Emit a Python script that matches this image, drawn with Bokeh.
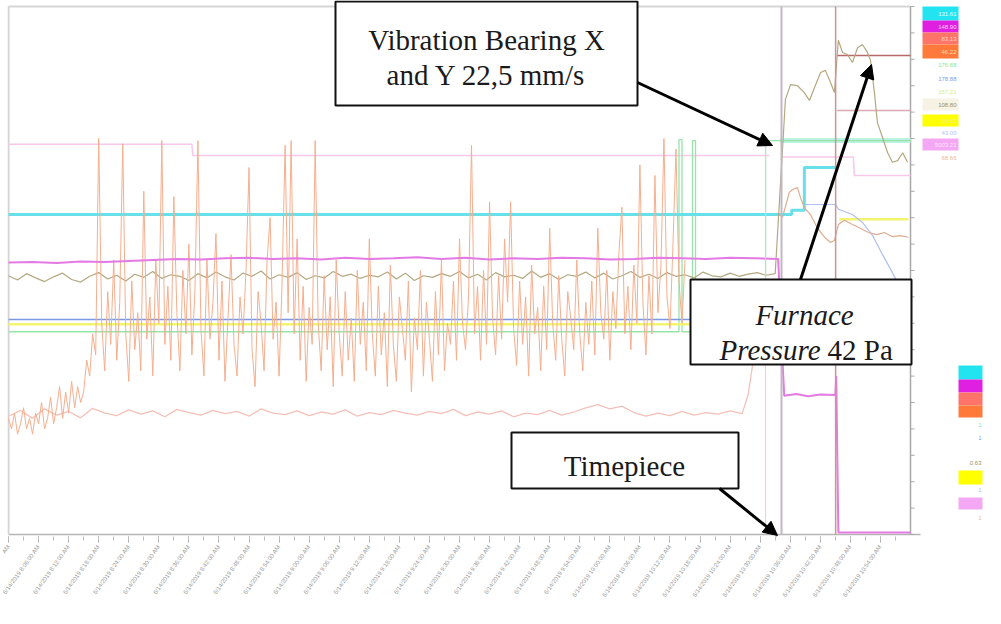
from bokeh.plotting import figure
from bokeh.models import Range1d, FixedTicker, Label, BoxAnnotation, Arrow, NormalHead
from bokeh.core.properties import value
from bokeh.embed import file_html
from bokeh.resources import INLINE

nan = float("nan")

# ---------------- data (time index t, value v in % of scale) ----------------
tick_pos = list(range(0, 300, 10))
minor_pos = list(range(0, 300, 5))
tick_labels = [
    "AM", "6/14/2019 8:06:00 AM", "6/14/2019 8:12:00 AM", "6/14/2019 8:18:00 AM",
    "6/14/2019 8:24:00 AM", "6/14/2019 8:30:00 AM", "6/14/2019 8:36:00 AM",
    "6/14/2019 8:42:00 AM", "6/14/2019 8:48:00 AM", "6/14/2019 8:54:00 AM",
    "6/14/2019 9:00:00 AM", "6/14/2019 9:06:00 AM", "6/14/2019 9:12:00 AM",
    "6/14/2019 9:18:00 AM", "6/14/2019 9:24:00 AM", "6/14/2019 9:30:00 AM",
    "6/14/2019 9:36:00 AM", "6/14/2019 9:42:00 AM", "6/14/2019 9:48:00 AM",
    "6/14/2019 9:54:00 AM", "6/14/2019 10:00:00 AM", "6/14/2019 10:06:00 AM",
    "6/14/2019 10:12:00 AM", "6/14/2019 10:18:00 AM", "6/14/2019 10:24:00 AM",
    "6/14/2019 10:30:00 AM", "6/14/2019 10:36:00 AM", "6/14/2019 10:42:00 AM",
    "6/14/2019 10:48:00 AM", "6/14/2019 10:54:00 AM",
]

# furnace pressure (spiky orange)
orange_v = ([22, 20, 23, 19, 21, 24, 20, 22, 19, 23, 21, 25, 20, 22, 26, 21, 24, 28, 22, 27, 23, 29, 24, 28, 25, 27]
            + [33, 30, 38, 34] + [75] + [40, 31, 46, 36, 52, 33, 44] + [74]
            + [38, 29, 48, 35, 42, 31] + [65] + [37, 45, 30, 52, 40] + [74.6]
            + [36, 47, 33, 64] + [42, 31, 50, 38, 55, 34, 46] + [74.6]
            + [39, 30, 52, 37, 44] + [57] + [33, 48, 29, 41, 53, 36, 30, 45, 38, 50] + [69.5]
            + [35, 28, 46, 40, 31, 52] + [60] + [37, 44, 30, 48] + [73.7, 42, 74.6, 38, 56]
            + [33, 47, 29, 43, 36] + [74.6]
            + [40, 31, 49, 35, 45, 28, 52, 38, 30, 46, 33, 41, 29, 50, 36, 44, 31] + [56]
            + [38, 30, 47, 34, 42, 28, 51, 36, 29, 45, 39, 33, 48, 27, 41, 35, 50, 30, 44, 37,
               29, 46, 34, 52, 31, 40, 36, 48, 33] + [56]
            + [40, 35, 45] + [73.7] + [38, 47, 33, 50, 36] + [63] + [41, 34, 49, 37] + [56] + [44] + [63]
            + [39, 32, 48, 36, 45, 30, 51, 38, 43, 31, 47, 35] + [58]
            + [40, 33, 49, 37, 30, 46, 41, 35, 52, 38, 31, 44, 36, 48, 34] + [58]
            + [42, 37, 50, 33, 46, 39, 53] + [62] + [38, 47, 35, 51, 40] + [70]
            + [44, 34, 49, 38] + [68] + [42, 51] + [75] + [45, 39, 55] + [73] + [48, 40, 52])
orange_t = list(range(len(orange_v)))
orange_late_t = [257.4, 259.7, 260.7, 262.4, 263.4, 264.7, 266.7, 269.0, 271.4, 273.4, 274.7,
                 276.0, 278.0, 280.7, 283.3, 286.0, 288.7, 291.3, 294.0, 296.6, 299.3]
orange_late_v = [60.0, 64.8, 65.3, 65.7, 63.8, 61.9, 60.6, 58.1, 56.3, 55.3, 55.7,
                 58.7, 59.5, 58.7, 58.0, 57.2, 56.8, 57.2, 56.4, 56.6, 56.3]

# pale salmon
salmon_v = [22.4, 23.5, 22.0, 23.8, 22.6, 23.3, 22.1, 23.9, 23.0, 22.5,
            23.6, 22.8, 23.4, 22.3, 23.7, 23.1, 22.6, 23.5, 22.9, 23.3,
            22.4, 23.8, 23.0, 22.7, 23.4, 22.5, 23.2, 22.8, 23.6, 22.4,
            23.1, 22.7, 23.5, 23.0, 22.6, 23.3, 22.9, 23.7, 22.5, 23.2,
            22.8, 23.4, 22.3, 23.0, 22.7, 23.5, 22.6, 23.2, 24.0, 24.6,
            23.8, 24.3, 23.1, 22.4, 23.0, 22.5, 23.3, 22.6, 23.1, 22.8,
            23.4, 22.9, 26.5, 34.0, 40.0]
salmon_t = list(range(0, 245, 4)) + [246, 248, 249]

# olive
olive_v = [49.0, 48.2, 49.4, 48.6, 47.9, 48.8, 49.5, 48.3, 47.8, 48.9,
           49.6, 48.4, 49.1, 48.0, 49.3, 48.7, 49.8, 48.5, 49.2, 48.9,
           48.1, 49.4, 48.6, 49.7, 48.8, 48.2, 49.5, 48.9, 49.9, 48.4,
           49.2, 48.7, 49.6, 48.3, 49.0, 48.6, 49.8, 48.9, 49.3, 48.5,
           49.1, 48.8, 49.7, 48.4, 49.5, 48.1, 49.0, 48.7, 49.4, 48.9,
           49.8, 48.6, 49.3, 48.2, 49.6, 48.8, 49.1, 48.5, 49.9, 48.7,
           49.4, 48.3, 49.2, 48.9, 49.7, 48.6, 49.5, 48.4, 49.0, 49.8,
           48.7, 49.3, 48.5, 49.6, 48.9, 49.2, 48.6, 49.7, 49.0, 48.8,
           49.5, 48.9, 49.3, 49.6, 49.1, 49.4,
           82.4, 85.2, 85.0, 83.7, 82.2, 84.7, 87.5, 87.9, 85.6, 83.7,
           93.6, 91.3, 90.9, 89.4, 92.2, 92.8, 91.3, 89.8, 83.7, 78.0,
           75.2, 72.3, 70.5, 70.8, 72.3, 70.5]
olive_t = list(range(0, 256, 3)) + [258.4, 260.1, 262.4, 264.7, 266.4, 268.1, 270.1, 271.7, 273.4, 274.7,
                                    276.0, 277.4, 279.0, 280.7, 282.4, 284.0, 285.7, 286.7, 288.0, 289.0,
                                    290.7, 292.4, 294.0, 295.7, 297.4, 299.0]

# magenta
mag_v = [51.5, 51.6, 51.4, 51.7, 51.6, 51.8, 52.0, 52.2, 52.1, 52.3, 52.4, 52.2, 52.3, 52.1, 52.4,
         52.2, 52.3, 52.5, 52.2, 52.4, 52.1, 52.3, 52.2, 52.4, 52.3, 52.1, 52.2, 52.4, 52.3, 52.2,
         52.4, 52.3, 52.2,
         32.0, 26.3, 26.6, 26.2, 26.5, 26.4, 30.0, 0.4, 0.4]
mag_t = list(range(0, 257, 8)) + [257.5, 258.0, 262.0, 266.0, 270.0, 275.0, 275.3, 276.0, 300.0]

cyan_t = [0, 260.5, 260.5, 264.7, 264.7, 275.1]
cyan_v = [60.6, 60.6, 61.4, 61.4, 69.5, 69.5]

blue_t = [0, 256.5]
blue_v = [40.7, 40.7]
lightblue_t = [264.7, 275.1, 276.0, 280.7, 284.0, 287.4, 290.7, 294.0, 295.7]
lightblue_v = [62.5, 62.5, 61.6, 60.6, 59.1, 56.6, 53.0, 49.6, 47.7]

yellow_t = [0, 256.5, nan, 276.3, 299.3]
yellow_v = [39.8, 39.8, nan, 59.7, 59.7]

green_t = [0, 223.0, 223.0, 224.0, 224.0, 227.5, 227.5, 228.5, 228.5, 231.0, 231.0, 251.8, 251.8, 300]
green_v = [38.4, 38.4, 74.8, 74.8, 38.4, 38.4, 74.6, 74.6, 40.0, 40.0, 38.4, 38.4, 74.6, 74.6]

seafoam_t = [256.5, 300]
seafoam_v = [74.6, 74.6]

pink_t = [0, 61.0, 61.3, 253.0, nan, 257.5, 281.0, 281.3, 300]
pink_v = [73.9, 73.9, 71.8, 71.8, nan, 71.5, 71.5, 68.0, 68.0]

rose_t = [275.5, 300]
rose_v = [80.3, 80.3]
darkred_t = [275.5, 300]
darkred_v = [90.7, 90.7]

cursor_t = [257.1]      # time cursor (grey)
event_t = [275.1]       # trip event (rose-brown)
pink_mark_t = [251.8]

legend_top_fill = ["#22E4F0", "#E020E0", "#FF7468", "#FF7A3A", None, None, None, "#F6F2E4",
                   "#FFFF00", None, "#F4A8F4", None]
legend_top_text = ["131.61", "148.90", "83.13", "46.22", "176.88", "178.88", "157.21", "108.80",
                   "38.50", "43.00", "5003.21", "68.66"]
legend_top_tcol = ["#E8FFFF", "#FFD8FF", "#FFD8C8", "#FFD8B8", "#8EE88E", "#7C9CF0", "#D0EC90",
                   "#A09060", "#F0F0A0", "#B0C0FF", "#FFE4FF", "#F0B890"]
legend_bot_fill = ["#22E4F0", "#E020E0", "#FF7468", "#FF7A3A", None, None, None, "#FFFF00", None, "#F4A8F4", None]
legend_bot_text = ["", "", "", "", "1", "1", "0.63", "", "1", "", "1"]
legend_bot_tcol = ["white", "white", "white", "white", "#8EE88E", "#7C9CF0", "#A09060", "white",
                   "#B0C0FF", "white", "#F0B890"]

# ---------------- layout helpers (pixel -> data) ----------------
PX = 902 / 300
VY = 5.28


def X(px):
    return (px - 16) / PX


def Y(py):
    return (542 - py) / VY


p = figure(width=985, height=608, x_range=Range1d(X(15), X(993)), y_range=Range1d(Y(544), Y(8)),
           output_backend="svg", toolbar_location=None, y_axis_location=None,
           min_border_left=7, min_border_right=0, min_border_top=0, min_border_bottom=72)
p.outline_line_color = None
p.grid.visible = False
p.background_fill_color = "white"
p.border_fill_color = "white"

ax = p.xaxis[0]
ax.ticker = FixedTicker(ticks=tick_pos, minor_ticks=minor_pos)
ax.major_label_overrides = {t: s for t, s in zip(tick_pos, tick_labels)}
ax.axis_line_color = None
ax.major_tick_line_color = "#a8a8a8"
ax.minor_tick_line_color = "#bcbcbc"
ax.major_tick_in = 0
ax.major_tick_out = 6
ax.minor_tick_in = 0
ax.minor_tick_out = 4
ax.major_label_orientation = 0.95
ax.major_label_text_font = "Liberation Sans"
ax.major_label_text_font_size = "6px"
ax.major_label_text_color = "#9a9a9a"
ax.major_label_standoff = 3

# frame lines
p.segment(x0=[X(16), X(16), X(16)], y0=[Y(542), Y(542), Y(14)],
          x1=[X(928), X(16), X(918)], y1=[Y(542), Y(14), Y(14)],
          line_color=["#b4b4b4", "#d4d4d4", "#d6d6d6"], line_width=[1.5, 2, 2])
# right scale
rticks = list(range(0, 101, 5))
p.segment(x0=[X(918)], y0=[0], x1=[X(918)], y1=[100], line_color="#a8a8a8", line_width=1.5)
p.segment(x0=[X(918)] * len(rticks), y0=rticks, x1=[X(922)] * len(rticks), y1=rticks,
          line_color="#a8a8a8", line_width=1)

# series
p.line(salmon_t, salmon_v, line_color="#F5C0B8", line_width=1.3)
p.line(pink_t, pink_v, line_color="#F8C8EC", line_width=1.5)
p.line(rose_t, rose_v, line_color="#DCA8B4", line_width=1.3)
p.line(darkred_t, darkred_v, line_color="#B86A6A", line_width=1.5)
p.line(seafoam_t, seafoam_v, line_color="#BCF2E0", line_width=5)
p.line(green_t, green_v, line_color="#96E4A8", line_width=1.3)
p.line(yellow_t, yellow_v, line_color="#F4F46E", line_width=2.5)
p.line(blue_t, blue_v, line_color="#7C98E4", line_width=1.5)
p.line(lightblue_t, lightblue_v, line_color="#B0C0F0", line_width=1.2)
p.line(cyan_t, cyan_v, line_color="#68E0EA", line_width=3)
p.line(olive_t, olive_v, line_color="#B4A880", line_width=1.2)
p.line(orange_t, orange_v, line_color="#F6AE8E", line_width=1)
p.line(orange_late_t, orange_late_v, line_color="#DEAC90", line_width=1.2)
p.line(mag_t, mag_v, line_color="#E47AE4", line_width=2)

# vertical markers
p.segment(x0=pink_mark_t, y0=[0], x1=pink_mark_t, y1=[74.6], line_color="#F4C4EA", line_width=1)
p.segment(x0=cursor_t, y0=[0], x1=cursor_t, y1=[100], line_color="#C0B8C2", line_width=2)
p.segment(x0=event_t, y0=[0], x1=event_t, y1=[100], line_color="#CC9494", line_width=1.5)

# legend strip (top)
top_rows = [(14, 28), (28, 40), (40, 52), (52, 66), (66, 79), (80, 92), (93, 105), (106, 118),
            (122, 134), (134, 146), (146, 158), (159, 171)]
for (yt, yb), fc, tx, tc in zip(top_rows, legend_top_fill, legend_top_text, legend_top_tcol):
    if fc is not None:
        p.quad(left=[X(930)], right=[X(966)], top=[Y(yt)], bottom=[Y(yb)], fill_color=fc, line_color=None)
    p.text(x=[X(964)], y=[Y((yt + yb) / 2)], text=[tx], text_color=tc, text_align="right",
           text_baseline="middle", text_font=value("Liberation Sans"), text_font_size="6px")

bot_rows = [(373, 387), (387, 400), (400, 413), (413, 425), (427, 437), (440, 450), (465, 475),
            (478, 492), (493, 502), (505, 517), (520, 530)]
for (yt, yb), fc, tx, tc in zip(bot_rows, legend_bot_fill, legend_bot_text, legend_bot_tcol):
    if fc is not None:
        p.quad(left=[X(966)], right=[X(990)], top=[Y(yt)], bottom=[Y(yb)], fill_color=fc, line_color=None)
    p.text(x=[X(989)], y=[Y((yt + yb) / 2)], text=[tx], text_color=tc, text_align="right",
           text_baseline="middle", text_font=value("Liberation Sans"), text_font_size="6px")

# callout boxes
for l, r, t, b in [(343, 645, 9, 113), (698, 919, 287, 372), (519, 746, 440, 496)]:
    p.add_layout(BoxAnnotation(left=X(l), right=X(r), top=Y(t), bottom=Y(b), fill_color="white",
                               fill_alpha=1, line_color="#111111", line_width=2, line_alpha=1))

serif = "Liberation Serif"
labels = [
    ("Vibration Bearing X", 494, 47, "center", "normal"),
    ("and Y 22,5 mm/s", 494, 82, "center", "normal"),
    ("Furnace", 812, 322, "center", "italic"),
    ("Pressure", 828, 357, "right", "italic"),
    ("42 Pa", 835, 357, "left", "normal"),
    ("Timepiece", 632, 473, "center", "normal"),
]
for txt, x, y, al, st in labels:
    p.add_layout(Label(x=X(x), y=Y(y), text=txt, text_font=serif, text_font_size="29px",
                       text_font_style=st, text_align=al, text_baseline="alphabetic",
                       text_color="#1a1a1a"))

for (x0, y0, x1, y1) in [(645, 90, 780, 153), (808, 287, 879, 72), (727, 496, 785, 543)]:
    p.add_layout(Arrow(end=NormalHead(size=14, fill_color="black", line_color="black"),
                       x_start=X(x0), y_start=Y(y0), x_end=X(x1), y_end=Y(y1),
                       line_color="black", line_width=3))

open("out.html", "w").write(file_html(p, INLINE))
